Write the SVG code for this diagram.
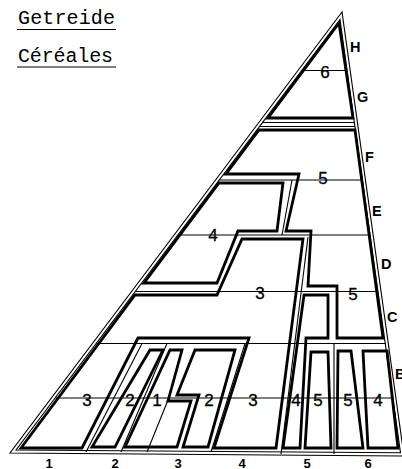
<svg xmlns="http://www.w3.org/2000/svg" width="402" height="469" viewBox="0 0 402 469">
<style>
.thin{fill:none;stroke:#000;stroke-width:1.1}
.thick{fill:none;stroke:#000;stroke-width:2.8;stroke-linejoin:miter}
.num{font-family:"Liberation Sans",Arial,sans-serif;font-size:17px;text-anchor:middle;fill:#000;stroke:#000;stroke-width:0.3}
.let{font-family:"Liberation Sans",Arial,sans-serif;font-size:14.5px;font-weight:bold;fill:#000}
.col{font-family:"Liberation Sans",Arial,sans-serif;font-size:13px;font-weight:bold;text-anchor:middle;fill:#000}
.title{font-family:"Liberation Mono","DejaVu Sans Mono",monospace;font-size:20px;fill:#000}
</style>
<rect width="402" height="469" fill="#fff"/>
<g id="title">
<text class="title" x="18" y="24" textLength="97" lengthAdjust="spacing">Getreide</text>
<line class="thin" x1="17" y1="29.5" x2="116" y2="29.5"/>
<text class="title" x="18" y="61.5" textLength="95" lengthAdjust="spacing">Céréales</text>
<line class="thin" x1="17" y1="67" x2="116" y2="67"/>
</g>
<g id="connectors">
<polygon class="thin" points="342,12 10,453 404,456"/>
<polygon class="thin" points="340,19.6 16,450 400.5,452.8"/>
<line class="thin" x1="262.6" y1="122.5" x2="354.4" y2="122.5"/>
<line class="thin" x1="259.6" y1="126.5" x2="355" y2="126.5"/>
<line class="thin" x1="301.7" y1="70.5" x2="347.1" y2="70.5"/>
<line class="thin" x1="219.3" y1="180" x2="362.4" y2="180"/>
<line class="thin" x1="177.9" y1="235" x2="370.1" y2="235"/>
<line class="thin" x1="135.5" y1="291.5" x2="377.9" y2="291.5"/>
<line class="thin" x1="96.4" y1="343.5" x2="385.2" y2="343.5"/>
<line class="thin" x1="55.4" y1="398" x2="392.8" y2="398"/>
<line class="thin" x1="147" y1="452" x2="168" y2="400"/>
<line class="thin" x1="334" y1="343.5" x2="334" y2="454"/>
<line class="thin" x1="142" y1="343.5" x2="86" y2="452"/>
<line class="thin" x1="167" y1="343.5" x2="121" y2="452"/>
<line class="thin" x1="245" y1="343.5" x2="211" y2="452"/>
<line class="thin" x1="308" y1="237" x2="281" y2="454"/>
<line class="thin" x1="292" y1="180" x2="282" y2="235"/>
</g>
<g id="region-6"><polygon class="thick" points="339,23 268,118 353,118"/></g>
<g id="region-5-top"><polygon class="thick" points="259,130 355,130 383,338 337,338 337,286 308,286 311,231 286,231 299,174 226,174"/></g>
<g id="region-4"><polygon class="thick" points="219,183 283,183 277,231 238,231 217,283 144,283"/></g>
<g id="region-3"><polygon class="thick" points="135,295 217,295 242,239 303,239 276,448 214,448 249,338 138,338 82,448 21,448"/></g>
<g id="parcel-2a"><polygon class="thick" points="150,350 163,350 115,447 92,447"/></g>
<g id="parcel-1"><polygon class="thick" points="170,350 182,350 168,401 191,401 177,447 125,447"/></g>
<g id="parcel-2b"><polygon class="thick" points="195,350 235,350 208,447 183,447 199,395 177,395"/></g>
<g id="parcel-4a"><polygon class="thick" points="304,295 328,295 328,338 306,338 300,448 283,448"/></g>
<g id="parcel-5a"><polygon class="thick" points="311,352 328,352 331,448 305,448"/></g>
<g id="parcel-5b"><polygon class="thick" points="338,351 351,351 363,448 337,448"/></g>
<g id="parcel-4b"><polygon class="thick" points="363,351 387,351 398,448 368,448"/></g>
<g id="labels">
<text class="num" x="325" y="78">6</text>
<text class="num" x="323" y="183.5">5</text>
<text class="num" x="213" y="240.5">4</text>
<text class="num" x="260" y="298.5">3</text>
<text class="num" x="353" y="299.5">5</text>
<text class="num" x="87" y="406">3</text>
<text class="num" x="130" y="406">2</text>
<text class="num" x="157" y="406">1</text>
<text class="num" x="209" y="406">2</text>
<text class="num" x="253" y="406">3</text>
<text class="num" x="296" y="406">4</text>
<text class="num" x="318" y="406">5</text>
<text class="num" x="348" y="406">5</text>
<text class="num" x="378" y="406">4</text>
<text class="let" x="350" y="52">H</text>
<text class="let" x="357" y="102">G</text>
<text class="let" x="365" y="162">F</text>
<text class="let" x="372" y="216">E</text>
<text class="let" x="381" y="269">D</text>
<text class="let" x="387" y="322">C</text>
<text class="let" x="395" y="379">B</text>
<text class="col" x="49" y="468">1</text>
<text class="col" x="115" y="468">2</text>
<text class="col" x="178" y="468">3</text>
<text class="col" x="242" y="468">4</text>
<text class="col" x="307" y="468">5</text>
<text class="col" x="368" y="468">6</text>
</g>
</svg>
